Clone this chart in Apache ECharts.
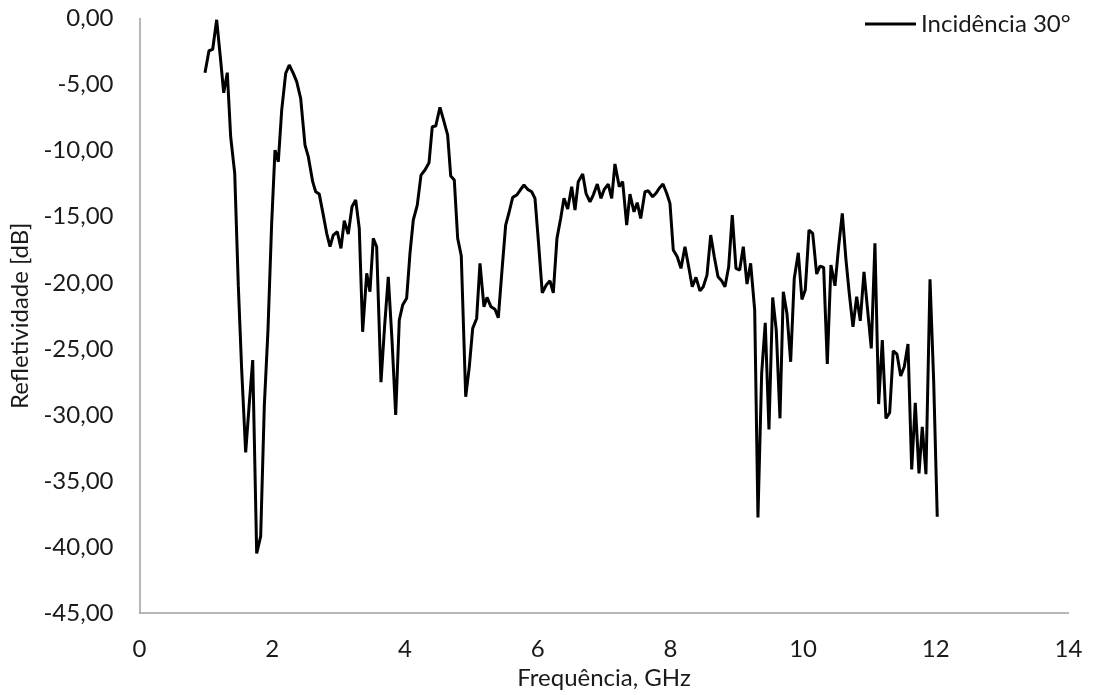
<!DOCTYPE html>
<html>
<head>
<meta charset="utf-8">
<script src="https://cdn.jsdelivr.net/npm/echarts@6/dist/echarts.min.js"></script>
<style>
html,body{margin:0;padding:0;background:#fff;}
#chart{width:1095px;height:695px;}
</style>
</head>
<body>
<div id="chart"></div>
<script>
const seriesName = 'Incidência 30°';
const xAxisName = 'Frequência, GHz';
const yAxisName = 'Refletividade [dB]';

const freq = [
0.987,1.047,1.103,1.163,1.218,1.269,1.323,1.374,1.435,1.489,1.540,1.600,1.652,1.706,1.766,1.826,1.881,1.936,1.991,2.042,
2.092,2.143,2.203,2.257,2.318,2.369,2.429,2.494,2.544,2.610,2.655,2.709,2.770,2.821,2.871,2.920,2.981,3.036,3.086,3.146,
3.202,3.258,3.312,3.363,3.424,3.473,3.523,3.574,3.639,3.695,3.749,3.805,3.861,3.915,3.966,4.026,4.076,4.126,4.186,4.242,
4.302,4.363,4.412,4.464,4.528,4.589,4.644,4.690,4.744,4.795,4.849,4.916,4.970,5.021,5.081,5.131,5.191,5.237,5.297,5.357,
5.407,5.463,5.518,5.568,5.624,5.684,5.738,5.794,5.850,5.910,5.960,6.010,6.070,6.130,6.186,6.236,6.291,6.347,6.397,6.453,
6.513,6.563,6.612,6.679,6.729,6.789,6.838,6.899,6.955,7.004,7.064,7.116,7.165,7.230,7.281,7.342,7.391,7.452,7.501,7.553,
7.617,7.667,7.733,7.783,7.833,7.889,7.945,7.994,8.044,8.104,8.160,8.220,8.276,8.330,8.386,8.446,8.496,8.552,8.608,8.662,
8.718,8.773,8.823,8.879,8.933,8.989,9.045,9.099,9.155,9.210,9.271,9.320,9.376,9.430,9.486,9.542,9.596,9.652,9.702,9.757,
9.813,9.867,9.928,9.983,10.033,10.089,10.145,10.205,10.255,10.310,10.365,10.420,10.481,10.536,10.591,10.647,10.696,10.752,10.808,10.862,
10.918,10.973,11.028,11.083,11.139,11.194,11.249,11.305,11.359,11.415,11.471,11.525,11.581,11.637,11.691,11.747,11.796,11.852,11.913,11.968,
12.022
];

const reflect = [
-4.10,-2.44,-2.33,-0.10,-2.90,-5.62,-4.10,-8.95,-11.72,-20.2,-26.6,-32.84,-29.3,-25.85,-40.48,-39.2,-29.3,-23.6,-15.6,-9.96,
-10.84,-6.93,-4.15,-3.52,-4.15,-4.78,-6.04,-9.58,-10.46,-12.35,-13.11,-13.29,-14.88,-16.26,-17.27,-16.39,-16.14,-17.40,-15.31,-16.31,
-14.25,-13.74,-15.88,-23.71,-19.29,-20.68,-16.64,-17.27,-27.52,-23.2,-19.55,-24.3,-30.0,-22.82,-21.69,-21.18,-17.77,-15.25,-14.12,-11.85,
-11.47,-10.92,-8.19,-8.14,-6.72,-7.81,-8.82,-11.92,-12.23,-16.64,-17.96,-28.63,-26.36,-23.45,-22.70,-18.53,-21.82,-21.11,-21.82,-22.01,
-22.65,-19.04,-15.63,-14.70,-13.54,-13.36,-12.98,-12.60,-12.93,-13.11,-13.61,-16.77,-20.76,-20.17,-19.85,-20.76,-16.64,-15.13,-13.61,-14.42,
-12.73,-14.50,-12.35,-11.77,-13.23,-13.87,-13.36,-12.53,-13.61,-12.93,-12.53,-13.61,-11.01,-12.73,-12.35,-15.63,-13.29,-14.63,-13.94,-15.13,
-13.11,-13.04,-13.49,-13.23,-12.85,-12.53,-13.23,-13.99,-17.52,-18.03,-18.91,-17.27,-18.79,-20.30,-19.59,-20.61,-20.30,-19.42,-16.39,-18.03,
-19.55,-19.85,-20.30,-18.79,-14.88,-18.91,-19.04,-17.27,-20.10,-18.53,-22.07,-37.76,-26.86,-23.03,-31.10,-21.11,-23.58,-30.26,-20.68,-22.32,
-25.98,-19.67,-17.73,-21.26,-20.55,-16.01,-16.26,-19.34,-18.74,-18.83,-26.15,-18.66,-20.23,-17.27,-14.75,-18.28,-20.80,-23.33,-21.06,-22.88,
-19.17,-22.07,-24.97,-17.02,-29.18,-24.34,-30.26,-29.84,-25.15,-25.40,-27.06,-26.36,-24.64,-34.13,-29.08,-34.43,-30.90,-34.48,-19.74,-27.4,
-37.71
];

const xTicks = [0, 2, 4, 6, 8, 10, 12, 14];
const yTicks = [0, -5, -10, -15, -20, -25, -30, -35, -40, -45];

const points = freq.map((f, i) => [f, reflect[i]]);
const FONT = 'Lato, "Open Sans", sans-serif';
const TXT = '#1a1a1a';
const FS = 24;

const chart = echarts.init(document.getElementById('chart'));
chart.setOption({
  animation: false,
  backgroundColor: '#fff',
  grid: { left: 139.5, right: 26.5, top: 18.5, bottom: 81.5, containLabel: false },
  legend: {
    data: [seriesName],
    left: 860, top: 7,
    icon: 'rect',
    itemWidth: 51, itemHeight: 3, itemGap: 5,
    itemStyle: { color: '#000' },
    textStyle: { fontFamily: FONT, fontSize: FS, color: TXT }
  },
  xAxis: {
    type: 'value',
    min: xTicks[0], max: xTicks[xTicks.length - 1], interval: xTicks[1] - xTicks[0],
    name: xAxisName, nameLocation: 'middle', nameGap: 51,
    nameTextStyle: { fontFamily: FONT, fontSize: FS, color: TXT },
    axisLine: { show: true, onZero: false, lineStyle: { color: '#a0a0a0', width: 1.5 } },
    axisTick: { show: false },
    splitLine: { show: false },
    axisLabel: { fontFamily: FONT, fontSize: FS, color: TXT, margin: 24 }
  },
  yAxis: {
    type: 'value',
    min: yTicks[yTicks.length - 1], max: yTicks[0], interval: 5,
    name: yAxisName, nameLocation: 'middle', nameGap: 102,
    nameTextStyle: { fontFamily: FONT, fontSize: FS, color: TXT },
    axisLine: { show: true, lineStyle: { color: '#a0a0a0', width: 1.5 } },
    axisTick: { show: false },
    splitLine: { show: false },
    axisLabel: {
      fontFamily: FONT, fontSize: FS, color: TXT, margin: 26,
      formatter: v => v.toFixed(2).replace('.', ',')
    }
  },
  series: [{
    name: seriesName,
    type: 'line',
    data: points,
    symbol: 'none',
    showSymbol: false,
    lineStyle: { color: '#000', width: 3 },
    itemStyle: { color: '#000' }
  }]
});
</script>
</body>
</html>
